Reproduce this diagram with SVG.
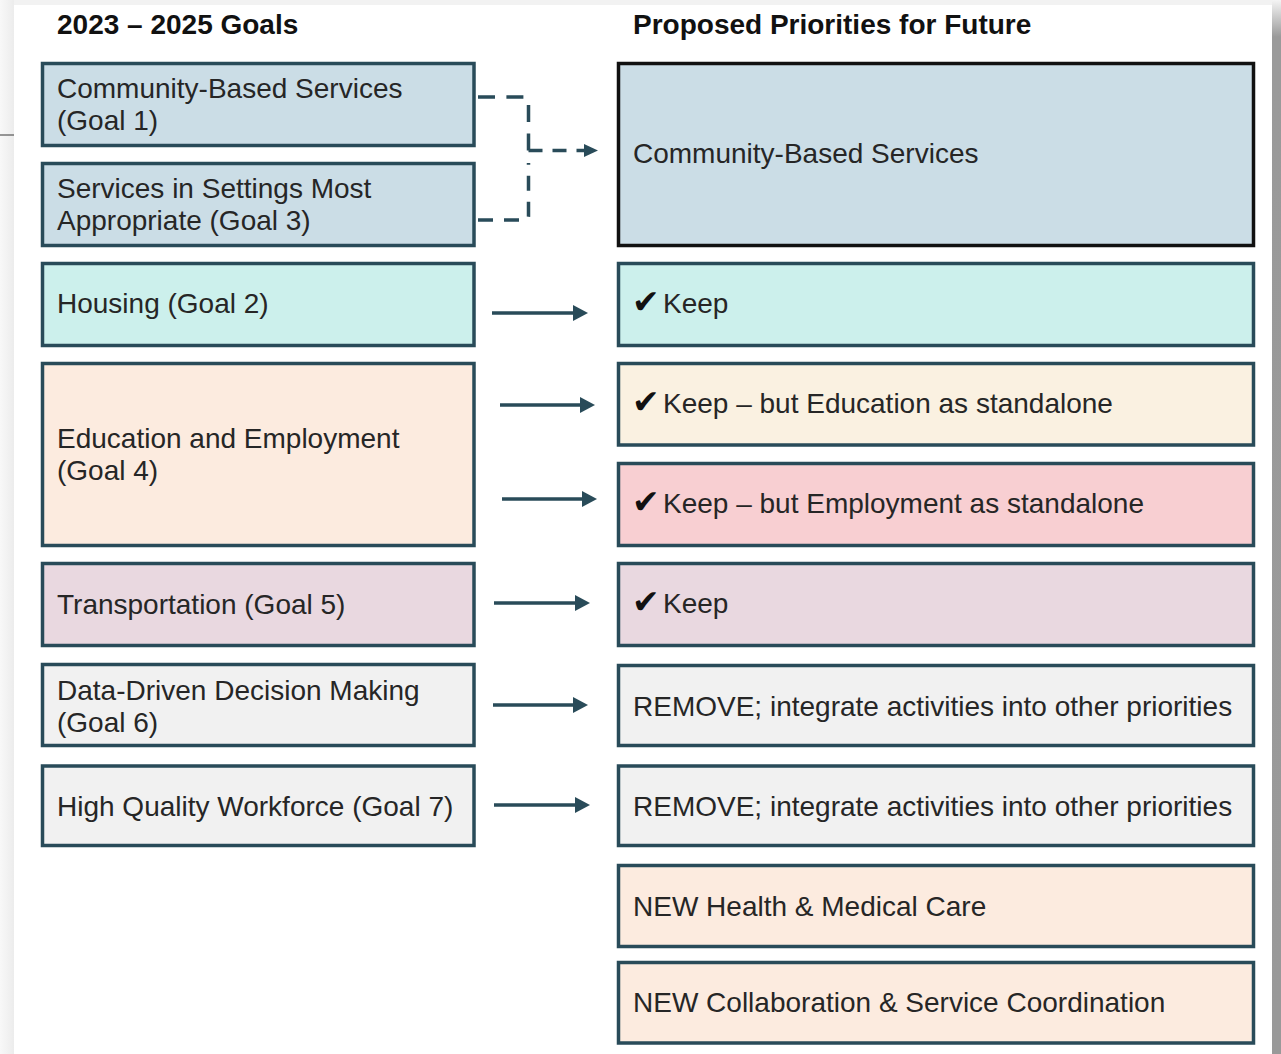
<svg xmlns="http://www.w3.org/2000/svg" width="1281" height="1054" viewBox="0 0 1281 1054">
  <defs>
    <style>
      .box { stroke: #294B59; stroke-width: 3.5; }
      .blue { fill: #CBDDE6; }
      .teal { fill: #CCF0EC; }
      .peach { fill: #FCEBDF; }
      .cream { fill: #FAF1E1; }
      .pink { fill: #F8CFD2; }
      .mauve { fill: #E9D8E0; }
      .gray { fill: #F1F1F1; }
      .black { stroke: #111111; stroke-width: 3.5; }
      .t { font-family: "Liberation Sans", Arial, "DejaVu Sans", sans-serif; font-size: 28px; fill: #262626; }
      .chk { font-family: "DejaVu Sans", sans-serif; font-size: 33px; fill: #111111; }
      .h { font-family: "Liberation Sans", Arial, sans-serif; font-size: 28px; font-weight: bold; fill: #111111; }
      .arrow { stroke: #294B59; stroke-width: 3.5; fill: none; marker-end: url(#head); }
      .dash { stroke: #294B59; stroke-width: 3.5; fill: none; }
    </style>
    <marker id="head" markerUnits="userSpaceOnUse" markerWidth="18" markerHeight="18" refX="3" refY="8" orient="auto">
      <path d="M0,0 L15,8 L0,16 z" fill="#294B59"/>
    </marker>
    <marker id="dhead" markerUnits="userSpaceOnUse" markerWidth="16" markerHeight="16" refX="3" refY="6.5" orient="auto">
      <path d="M0,0 L14,6.5 L0,13 z" fill="#294B59"/>
    </marker>
    <linearGradient id="rside" x1="0" y1="0" x2="0" y2="1">
      <stop offset="0" stop-color="#f4f4f4"/>
      <stop offset="0.035" stop-color="#9a9a9a"/>
      <stop offset="1" stop-color="#999999"/>
    </linearGradient>
    <linearGradient id="lside" x1="0" y1="0" x2="1" y2="0">
      <stop offset="0" stop-color="#f8f8f8"/>
      <stop offset="1" stop-color="#ececec"/>
    </linearGradient>
  </defs>

  <!-- page background -->
  <rect x="0" y="0" width="1281" height="1054" fill="#f2f2f2"/>
  <rect x="0" y="0" width="14" height="1054" fill="url(#lside)"/>
  <rect x="14" y="5" width="1258" height="1049" fill="#ffffff"/>
  <rect x="1272" y="0" width="9" height="1054" fill="url(#rside)"/>
  <line x1="0" y1="135" x2="14" y2="135" stroke="#555555" stroke-width="1.2"/>

  <!-- headers -->
  <text class="h" x="57" y="34">2023 – 2025 Goals</text>
  <text class="h" x="633" y="34">Proposed Priorities for Future</text>

  <!-- left column -->
  <g id="goal1">
    <rect class="box blue" x="42.5" y="63.5" width="431.5" height="82"/>
    <text class="t" x="57" y="98">Community-Based Services</text>
    <text class="t" x="57" y="130">(Goal 1)</text>
  </g>
  <g id="goal3">
    <rect class="box blue" x="42.5" y="163.5" width="431.5" height="82"/>
    <text class="t" x="57" y="198">Services in Settings Most</text>
    <text class="t" x="57" y="230">Appropriate (Goal 3)</text>
  </g>
  <g id="goal2">
    <rect class="box teal" x="42.5" y="263.5" width="431.5" height="82"/>
    <text class="t" x="57" y="313">Housing (Goal 2)</text>
  </g>
  <g id="goal4">
    <rect class="box peach" x="42.5" y="363.5" width="431.5" height="182"/>
    <text class="t" x="57" y="448">Education and Employment</text>
    <text class="t" x="57" y="480">(Goal 4)</text>
  </g>
  <g id="goal5">
    <rect class="box mauve" x="42.5" y="563.5" width="431.5" height="82"/>
    <text class="t" x="57" y="614">Transportation (Goal 5)</text>
  </g>
  <g id="goal6">
    <rect class="box gray" x="42.5" y="664.5" width="431.5" height="81"/>
    <text class="t" x="57" y="700">Data-Driven Decision Making</text>
    <text class="t" x="57" y="732">(Goal 6)</text>
  </g>
  <g id="goal7">
    <rect class="box gray" x="42.5" y="766" width="431.5" height="79.5"/>
    <text class="t" x="57" y="816">High Quality Workforce (Goal 7)</text>
  </g>

  <!-- right column -->
  <g id="p-community">
    <rect class="black blue" x="618.5" y="63.5" width="635" height="182"/>
    <text class="t" x="633" y="163">Community-Based Services</text>
  </g>
  <g id="p-housing">
    <rect class="box teal" x="618.5" y="263.5" width="635" height="82"/>
    <text class="t" x="632" y="313"><tspan class="chk">✔</tspan><tspan x="663">Keep</tspan></text>
  </g>
  <g id="p-education">
    <rect class="box cream" x="618.5" y="363.5" width="635" height="81.5"/>
    <text class="t" x="632" y="413"><tspan class="chk">✔</tspan><tspan x="663">Keep – but Education as standalone</tspan></text>
  </g>
  <g id="p-employment">
    <rect class="box pink" x="618.5" y="463.5" width="635" height="82"/>
    <text class="t" x="632" y="513"><tspan class="chk">✔</tspan><tspan x="663">Keep – but Employment as standalone</tspan></text>
  </g>
  <g id="p-transport">
    <rect class="box mauve" x="618.5" y="563.5" width="635" height="82"/>
    <text class="t" x="632" y="613"><tspan class="chk">✔</tspan><tspan x="663">Keep</tspan></text>
  </g>
  <g id="p-data">
    <rect class="box gray" x="618.5" y="665.5" width="635" height="80"/>
    <text class="t" x="633" y="716">REMOVE; integrate activities into other priorities</text>
  </g>
  <g id="p-workforce">
    <rect class="box gray" x="618.5" y="766" width="635" height="79.5"/>
    <text class="t" x="633" y="816">REMOVE; integrate activities into other priorities</text>
  </g>
  <g id="p-health">
    <rect class="box peach" x="618.5" y="865.5" width="635" height="81"/>
    <text class="t" x="633" y="916">NEW Health &amp; Medical Care</text>
  </g>
  <g id="p-collab">
    <rect class="box peach" x="618.5" y="962.5" width="635" height="80.5"/>
    <text class="t" x="633" y="1012">NEW Collaboration &amp; Service Coordination</text>
  </g>

  <!-- connectors -->
  <g id="connectors">
    <path class="dash" d="M478,97 H524 Q528.5,97 528.5,101 V151" stroke-dasharray="17 11.4"/>
    <path class="dash" d="M478,220 H524 Q528.5,220 528.5,216 V163" stroke-dasharray="15 11"/>
    <path class="dash" d="M528.5,150.5 H587" marker-end="url(#dhead)" stroke-dasharray="14 10 14 10 14 30"/>
    <line class="arrow" x1="492" y1="313" x2="576" y2="313"/>
    <line class="arrow" x1="500" y1="405" x2="583" y2="405"/>
    <line class="arrow" x1="502" y1="499" x2="585" y2="499"/>
    <line class="arrow" x1="494" y1="603" x2="578" y2="603"/>
    <line class="arrow" x1="493" y1="705" x2="576" y2="705"/>
    <line class="arrow" x1="494" y1="805" x2="578" y2="805"/>
  </g>
</svg>
